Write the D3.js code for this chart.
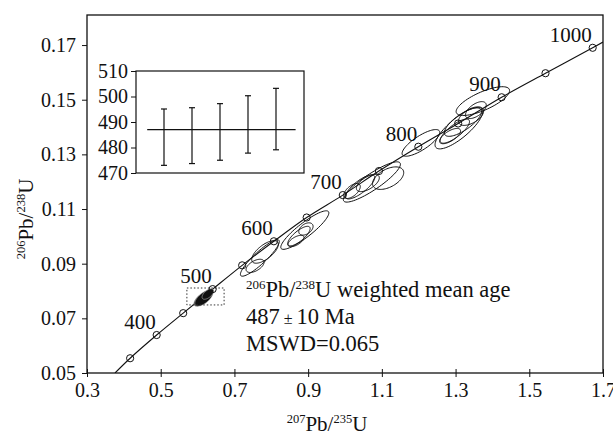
<!DOCTYPE html>
<html>
<head>
<meta charset="utf-8">
<script src="https://cdn.jsdelivr.net/npm/d3@7"></script>
<style>
body { margin: 0; background: #fff; }
svg text { font-family: "Liberation Serif", "Times New Roman", serif; fill: #111; }
</style>
</head>
<body>
<div id="vis"></div>
<script>
// concordia age marks (Ma) and their ratios
var markerAge = [350, 400, 450, 500, 550, 600, 650, 700, 750, 800, 850, 900, 950, 1000];
var markerX = [0.417, 0.489, 0.561, 0.641, 0.721, 0.807, 0.896, 0.994, 1.092, 1.199, 1.307, 1.425, 1.544, 1.672];
var markerY = [0.0554, 0.0639, 0.0719, 0.0807, 0.0894, 0.0982, 0.1069, 0.1151, 0.1239, 0.1328, 0.1413, 0.1509, 0.1597, 0.1690];
var curveStart = [0.376, 0.05];
var curveEnd = [1.70, 0.1711];
var labelAges = [400, 500, 600, 700, 800, 900, 1000];

var xTicks = [0.3, 0.5, 0.7, 0.9, 1.1, 1.3, 1.5, 1.7];
var yTicks = [0.05, 0.07, 0.09, 0.11, 0.13, 0.15, 0.17];

// analysis ellipses: 207Pb/235U, 206Pb/238U, half widths, error correlation
var ellX = [0.612, 0.623, 0.617, 0.628, 0.769, 0.756, 0.783, 0.891, 0.875, 0.894, 0.867, 1.073, 1.041, 1.117, 1.019, 1.062, 1.206, 1.309, 1.320, 1.298, 1.342, 1.285, 1.374, 1.355];
var ellY = [0.0771, 0.0782, 0.0774, 0.0789, 0.0921, 0.0892, 0.0943, 0.1023, 0.1001, 0.1027, 0.0983, 0.1199, 0.1181, 0.1213, 0.1166, 0.1195, 0.1342, 0.1396, 0.1418, 0.1385, 0.1440, 0.1367, 0.1495, 0.1462];
var ellSx = [0.0222, 0.0200, 0.0245, 0.0158, 0.0528, 0.0244, 0.0361, 0.0652, 0.0304, 0.0194, 0.0218, 0.0774, 0.0398, 0.0423, 0.0225, 0.0311, 0.0511, 0.0647, 0.0505, 0.0398, 0.0342, 0.0285, 0.0725, 0.0282];
var ellSy = [0.00267, 0.00240, 0.00294, 0.00192, 0.00668, 0.00242, 0.00413, 0.00705, 0.00358, 0.00225, 0.00208, 0.00737, 0.00441, 0.00412, 0.00274, 0.00313, 0.00488, 0.00759, 0.00520, 0.00441, 0.00339, 0.00280, 0.00526, 0.00310];
var ellRho = [0.66, 0.66, 0.65, 0.59, 0.90, 0.55, 0.67, 0.89, 0.77, 0.42, 0.62, 0.88, 0.79, 0.49, 0.59, 0.61, 0.79, 0.80, 0.75, 0.79, 0.55, 0.67, 0.73, 0.58];
var ellFilled = [1, 1, 1, 1, 0, 0, 0, 0, 0, 0, 0, 0, 0, 0, 0, 0, 0, 0, 0, 0, 0, 0, 0, 0];

// dotted box round the ~500 Ma group
var boxX = [0.571, 0.672];
var boxY = [0.0749, 0.0811];

// inset: 206Pb/238U ages with error bars
var barIndex = [1, 2, 3, 4, 5];
var barHigh = [495.1, 495.6, 497.2, 500.3, 503.2];
var barLow = [473.0, 473.7, 475.0, 477.8, 479.1];
var meanAge = 487;
var meanSpan = [0.4, 5.7];
var insetTicks = [470, 480, 490, 500, 510];

var svgW = 613, svgH = 436;
var svg = d3.select('#vis').append('svg').attr('width', svgW).attr('height', svgH);
var g = svg.append('g');

var x = d3.scaleLinear().domain([0.3, 1.7]).range([87, 603]);
var y = d3.scaleLinear().domain([0.05, 0.181]).range([373, 15]);

svg.append('clipPath').attr('id', 'plotclip').append('rect')
  .attr('x', 87).attr('y', 15).attr('width', 516).attr('height', 358);

// frame
g.append('rect').attr('x', 87).attr('y', 15).attr('width', 516).attr('height', 358)
  .style('fill', 'none').style('stroke', '#111').style('stroke-width', 1.3);

// x axis, ticks cross the line
var xAxis = g.append('g').attr('transform', 'translate(0,373)')
  .call(d3.axisBottom(x).tickValues(xTicks).tickSize(4).tickSizeOuter(0).tickFormat(d3.format('.1f')));
xAxis.select('.domain').remove();
xAxis.selectAll('line').attr('y1', -4).attr('y2', 4).style('stroke', '#111');
xAxis.selectAll('text').attr('y', 10).style('font-size', '20px').style('font-family', null);

var yAxis = g.append('g').attr('transform', 'translate(87,0)')
  .call(d3.axisLeft(y).tickValues(yTicks).tickSize(5).tickPadding(6).tickSizeOuter(0).tickFormat(d3.format('.2f')));
yAxis.select('.domain').remove();
yAxis.selectAll('line').style('stroke', '#111');
yAxis.selectAll('text').style('font-size', '20px').style('font-family', null);

// axis titles
var xt = g.append('text').attr('x', 327).attr('y', 431).attr('text-anchor', 'middle').style('font-size', '21px');
xt.append('tspan').text('207').style('font-size', '12.5px').attr('dy', -8);
xt.append('tspan').text('Pb/').attr('dy', 8);
xt.append('tspan').text('235').style('font-size', '12.5px').attr('dy', -8);
xt.append('tspan').text('U').attr('dy', 8);

var yt = g.append('text').attr('transform', 'translate(33,219) rotate(-90)').attr('text-anchor', 'middle').style('font-size', '21px');
yt.append('tspan').text('206').style('font-size', '12.5px').attr('dy', -8);
yt.append('tspan').text('Pb/').attr('dy', 8);
yt.append('tspan').text('238').style('font-size', '12.5px').attr('dy', -8);
yt.append('tspan').text('U').attr('dy', 8);

var plot = g.append('g').attr('clip-path', 'url(#plotclip)');

// concordia curve
var curvePts = [curveStart].concat(markerX.map(function (d, i) { return [d, markerY[i]]; })).concat([curveEnd]);
var line = d3.line().x(function (d) { return x(d[0]); }).y(function (d) { return y(d[1]); }).curve(d3.curveCatmullRom);
plot.append('path').attr('d', line(curvePts))
  .style('fill', 'none').style('stroke', '#111').style('stroke-width', 1.1);

// error ellipses
function ellipsePts(i) {
  var pts = [];
  var k = Math.sqrt(1 - ellRho[i] * ellRho[i]);
  for (var s = 0; s < 72; s++) {
    var t = s / 72 * Math.PI * 2;
    pts.push([ellX[i] + ellSx[i] * Math.cos(t),
              ellY[i] + ellSy[i] * (ellRho[i] * Math.cos(t) + k * Math.sin(t))]);
  }
  return pts;
}
var ellLine = d3.line().x(function (d) { return x(d[0]); }).y(function (d) { return y(d[1]); }).curve(d3.curveLinearClosed);
plot.selectAll('.ell').data(ellX).enter().append('path').attr('class', 'ell')
  .attr('d', function (d, i) { return ellLine(ellipsePts(i)); })
  .style('fill', function (d, i) { return ellFilled[i] ? '#111' : 'none'; })
  .style('stroke', function (d, i) { return ellFilled[i] ? '#bbb' : '#111'; })
  .style('stroke-width', function (d, i) { return ellFilled[i] ? 0.6 : 1; });

// dotted box
plot.append('rect')
  .attr('x', x(boxX[0])).attr('y', y(boxY[1]))
  .attr('width', x(boxX[1]) - x(boxX[0])).attr('height', y(boxY[0]) - y(boxY[1]))
  .style('fill', 'none').style('stroke', '#333').style('stroke-width', 1).style('stroke-dasharray', '1.5,2');

// age markers
plot.selectAll('.mark').data(markerAge).enter().append('circle').attr('class', 'mark')
  .attr('cx', function (d, i) { return x(markerX[i]); })
  .attr('cy', function (d, i) { return y(markerY[i]); })
  .attr('r', 3.6)
  .style('fill', 'none').style('stroke', '#111').style('stroke-width', 1);

// age labels
g.selectAll('.agelab').data(labelAges).enter().append('text').attr('class', 'agelab')
  .text(String)
  .attr('x', function (d) { return x(markerX[markerAge.indexOf(d)]); })
  .attr('y', function (d) { return y(markerY[markerAge.indexOf(d)]); })
  .attr('dx', -1).attr('dy', -6)
  .attr('text-anchor', 'end')
  .style('font-size', '21px');

// weighted mean text
var tx = 246;
var t1 = g.append('text').attr('x', tx).attr('y', 297).style('font-size', '22.5px');
t1.append('tspan').text('206').style('font-size', '13px').attr('dy', -8);
t1.append('tspan').text('Pb/').attr('dy', 8);
t1.append('tspan').text('238').style('font-size', '13px').attr('dy', -8);
t1.append('tspan').text('U weighted mean age').attr('dy', 8);
var t2 = g.append('text').attr('x', tx).attr('y', 324).style('font-size', '22.5px');
t2.append('tspan').text('487');
t2.append('tspan').text(' \u00b1 ').style('font-size', '16px');
t2.append('tspan').text('10 Ma');
g.append('text').attr('x', tx).attr('y', 351).style('font-size', '22.5px').text('MSWD=0.065');

// inset
var ix = d3.scaleLinear().domain([0, 6]).range([136, 304]);
var iy = d3.scaleLinear().domain([470, 510]).range([173, 71]);
var inset = g.append('g');
inset.append('rect').attr('x', 136).attr('y', 71).attr('width', 168).attr('height', 102)
  .style('fill', '#fff').style('stroke', '#111').style('stroke-width', 1.2);
var iAxis = inset.append('g').attr('transform', 'translate(136,0)')
  .call(d3.axisLeft(iy).tickValues(insetTicks).tickSize(5).tickPadding(3).tickSizeOuter(0));
iAxis.select('.domain').remove();
iAxis.selectAll('line').style('stroke', '#111');
iAxis.selectAll('text').style('font-size', '20px').style('font-family', null);

inset.append('line')
  .attr('x1', ix(meanSpan[0])).attr('x2', ix(meanSpan[1]))
  .attr('y1', iy(meanAge)).attr('y2', iy(meanAge))
  .style('stroke', '#111').style('stroke-width', 1.3);

var bars = inset.selectAll('.bar').data(barIndex).enter().append('g').attr('class', 'bar');
bars.append('line')
  .attr('x1', function (d) { return ix(d); }).attr('x2', function (d) { return ix(d); })
  .attr('y1', function (d, i) { return iy(barHigh[i]); }).attr('y2', function (d, i) { return iy(barLow[i]); })
  .style('stroke', '#111').style('stroke-width', 1.2);
bars.append('line')
  .attr('x1', function (d) { return ix(d) - 3; }).attr('x2', function (d) { return ix(d) + 3; })
  .attr('y1', function (d, i) { return iy(barHigh[i]); }).attr('y2', function (d, i) { return iy(barHigh[i]); })
  .style('stroke', '#111').style('stroke-width', 1.2);
bars.append('line')
  .attr('x1', function (d) { return ix(d) - 3; }).attr('x2', function (d) { return ix(d) + 3; })
  .attr('y1', function (d, i) { return iy(barLow[i]); }).attr('y2', function (d, i) { return iy(barLow[i]); })
  .style('stroke', '#111').style('stroke-width', 1.2);
</script>
</body>
</html>
